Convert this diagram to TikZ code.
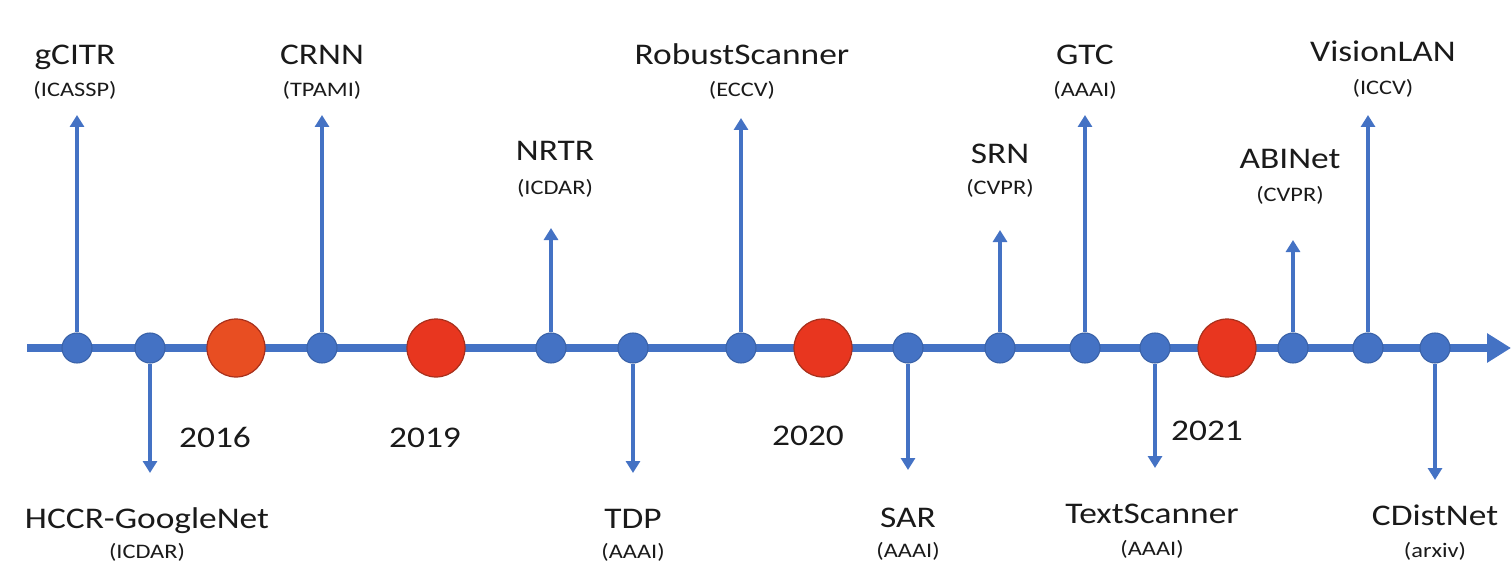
\documentclass[tikz,border=0pt]{standalone}
\usepackage{fontspec}
\setmainfont{Carlito}[FakeStretch=1.18]
\usetikzlibrary{arrows.meta}
\definecolor{tlblue}{HTML}{4472C4}
\definecolor{tlblueedge}{HTML}{3A62A8}
\definecolor{tlred}{HTML}{E8361F}
\definecolor{tlorange}{HTML}{E84E22}
\definecolor{tlrededge}{HTML}{A8301C}
\definecolor{txt}{HTML}{1A1A1A}
\begin{document}
\begin{tikzpicture}[x=0.75pt,y=-0.75pt,
  dot/.style={circle,fill=tlblue,draw=tlblueedge,line width=0.8pt,minimum size=22.5pt,inner sep=0pt},
  yeardot/.style={circle,fill=tlred,draw=tlrededge,line width=0.9pt,minimum size=43.5pt,inner sep=0pt},
  stem/.style={draw=tlblue,line width=3pt,-{Triangle[length=9pt,width=10.5pt]}},
  title/.style={font=\fontsize{22.5}{24}\selectfont,text=txt,inner sep=0pt,anchor=base},
  venue/.style={font=\fontsize{15.5}{17}\selectfont,text=txt,inner sep=0pt,anchor=base},
  yearlab/.style={font=\fontsize{22.5}{24}\selectfont,text=txt,inner sep=0pt,anchor=base}]
\useasboundingbox (0,0) rectangle (1512,581);
% axis
\coordinate (axs) at (27,348);
\coordinate (axe) at (1511,348);
\draw[line width=6pt,tlblue,-{Triangle[length=18pt,width=21pt]}] (axs) -- (axe);
% dots
\node[dot] (d1) at (77,348) {};
\node[dot] (d2) at (150,348) {};
\node[yeardot,fill=tlorange] (y16) at (236,348) {};
\node[dot] (d3) at (322,348) {};
\node[yeardot] (y19) at (436,348) {};
\node[dot] (d4) at (551,348) {};
\node[dot] (d5) at (633,348) {};
\node[dot] (d6) at (741,348) {};
\node[yeardot] (y20) at (823,348) {};
\node[dot] (d7) at (908,348) {};
\node[dot] (d8) at (1000,348) {};
\node[dot] (d9) at (1085,348) {};
\node[dot] (d10) at (1155,348) {};
\node[yeardot] (y21) at (1227,348) {};
\node[dot] (d11) at (1293,348) {};
\node[dot] (d12) at (1368,348) {};
\node[dot] (d13) at (1435,348) {};
% arrow ends
\coordinate (e1) at (77,115);
\coordinate (e2) at (150,473);
\coordinate (e3) at (322,115);
\coordinate (e4) at (551,228);
\coordinate (e5) at (633,473);
\coordinate (e6) at (741,118);
\coordinate (e7) at (908,470);
\coordinate (e8) at (1000,230);
\coordinate (e9) at (1085,115);
\coordinate (e10) at (1155,468);
\coordinate (e11) at (1293,240);
\coordinate (e12) at (1368,115);
\coordinate (e13) at (1435,480);
\foreach \i in {1,...,13} {\draw[stem] (d\i) -- (e\i);}
% top labels
\node[title] (t1) at (75,65) {gCITR};
\node[venue] (v1) at (75,97) {(ICASSP)};
\node[title] (t3) at (322,65) {CRNN};
\node[venue] (v3) at (322,97) {(TPAMI)};
\node[title] (t4) at (555,161) {NRTR};
\node[venue] (v4) at (555,194) {(ICDAR)};
\node[title] (t6) at (742,65) {RobustScanner};
\node[venue] (v6) at (742,97) {(ECCV)};
\node[title] (t8) at (1000,164) {SRN};
\node[venue] (v8) at (1000,194) {(CVPR)};
\node[title] (t9) at (1085,65) {GTC};
\node[venue] (v9) at (1085,97) {(AAAI)};
\node[title] (t11) at (1290,169) {ABINet};
\node[venue] (v11) at (1290,201) {(CVPR)};
\node[title] (t12) at (1383,62) {VisionLAN};
\node[venue] (v12) at (1383,95) {(ICCV)};
% bottom labels
\node[title] (t2) at (147,528) {HCCR-GoogleNet};
\node[venue] (v2) at (147,558) {(ICDAR)};
\node[title] (t5) at (633,528) {TDP};
\node[venue] (v5) at (633,558) {(AAAI)};
\node[title] (t7) at (908,527) {SAR};
\node[venue] (v7) at (908,557) {(AAAI)};
\node[title] (t10) at (1152,523) {TextScanner};
\node[venue] (v10) at (1152,555) {(AAAI)};
\node[title] (t13) at (1435,525) {CDistNet};
\node[venue] (v13) at (1435,557) {(arxiv)};
% years
\node[yearlab] (l16) at (215,447) {2016};
\node[yearlab] (l19) at (425,447) {2019};
\node[yearlab] (l20) at (808,445) {2020};
\node[yearlab] (l21) at (1207,440) {2021};
\end{tikzpicture}
\end{document}
